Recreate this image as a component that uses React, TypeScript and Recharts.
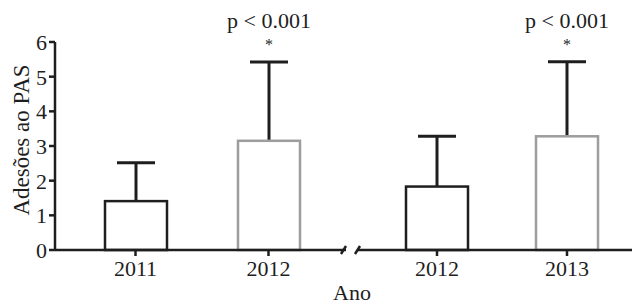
import React from "react";
import { BarChart, Bar, XAxis, YAxis } from "recharts";

// values
const yearsA = ["2011", "2012"];
const meansA = [1.41, 3.15];
const errsA = [1.11, 2.27];
const sigA = [false, true];

const yearsB = ["2012", "2013"];
const meansB = [1.83, 3.28];
const errsB = [1.45, 2.15];
const sigB = [false, true];

const yTicks = [0, 1, 2, 3, 4, 5, 6];
const pText = "p < 0.001";

const ink = "#1e1e1e";
const grey = "#9d9d9d";
const font = "'Liberation Serif', 'DejaVu Serif', serif";

const build = (years: string[], means: number[], errs: number[], sig: boolean[]) =>
  years.map((year, i) => ({ year, mean: means[i], err: errs[i], sig: sig[i] }));

const dataA = build(yearsA, meansA, errsA, sigA);
const dataB = build(yearsB, meansB, errsB, sigB);

const BarWithError = (props: any) => {
  const { x, y, width, height, payload, index } = props;
  const perUnit = payload.mean > 0 ? height / payload.mean : 0;
  const top = y - payload.err * perUnit;
  const cx = x + width / 2;
  const color = index === 0 ? ink : grey;
  return (
    <g>
      <line x1={cx} x2={cx} y1={y} y2={top} stroke={ink} strokeWidth={3} />
      <line x1={cx - 19} x2={cx + 19} y1={top} y2={top} stroke={ink} strokeWidth={3} />
      <rect x={x} y={y} width={width} height={height} fill="#fff" stroke={color} strokeWidth={2.5} />
      {payload.sig && (
        <>
          <text x={cx} y={top - 34} textAnchor="middle" fontFamily={font} fontSize={22} fill={ink}>
            {pText}
          </text>
          <text x={cx} y={top - 12} textAnchor="middle" fontFamily={font} fontSize={16} fill={ink}>
            *
          </text>
        </>
      )}
    </g>
  );
};

const XTick = (props: any) => {
  const { x, y, payload } = props;
  return (
    <text x={x} y={y + 18} textAnchor="middle" fontFamily={font} fontSize={22} fill={ink}>
      {payload.value}
    </text>
  );
};

const YTick = (props: any) => {
  const { x, y, payload } = props;
  return (
    <text x={x} y={y + 8} textAnchor="end" fontFamily={font} fontSize={22} fill={ink}>
      {payload.value}
    </text>
  );
};

const axisLine = { stroke: ink, strokeWidth: 2.5 };
const tickLine = { stroke: ink, strokeWidth: 2.5 };
const margin = { top: 42, right: 0, bottom: 26, left: 0 };

export default function App() {
  return (
    <div style={{ position: "absolute", left: 0, top: 0, width: 632, height: 306, background: "#fff" }}>
      <div style={{ position: "absolute", left: 0, top: 0 }}>
        <BarChart width={346} height={306} data={dataA} margin={margin} barSize={62}>
          <XAxis
            dataKey="year"
            padding={{ left: 14, right: 11 }}
            height={30}
            tick={<XTick />}
            tickSize={6}
            tickMargin={2}
            axisLine={axisLine}
            tickLine={tickLine}
          />
          <YAxis
            domain={[0, 6]}
            ticks={yTicks}
            width={55}
            interval={0}
            tick={<YTick />}
            tickSize={6}
            tickMargin={2}
            axisLine={axisLine}
            tickLine={tickLine}
            label={{
              value: "Adesões ao PAS",
              angle: -90,
              position: "insideLeft",
              offset: 21,
              dy: -6,
              style: { fontFamily: font, fontSize: 23, fill: ink, textAnchor: "middle" },
            }}
          />
          <Bar dataKey="mean" shape={<BarWithError />} isAnimationActive={false} />
        </BarChart>
      </div>
      <div style={{ position: "absolute", left: 357, top: 0 }}>
        <BarChart width={275} height={306} data={dataB} margin={margin} barSize={62}>
          <XAxis
            dataKey="year"
            padding={{ left: 15, right: 0 }}
            height={30}
            tick={<XTick />}
            tickSize={6}
            tickMargin={2}
            axisLine={axisLine}
            tickLine={tickLine}
          />
          <YAxis hide domain={[0, 6]} ticks={yTicks} />
          <Bar dataKey="mean" shape={<BarWithError />} isAnimationActive={false} />
        </BarChart>
      </div>
      <svg width={632} height={306} style={{ position: "absolute", left: 0, top: 0, pointerEvents: "none" }}>
        <line x1={341} y1={254} x2={346} y2={246} stroke={ink} strokeWidth={2.5} />
        <line x1={355} y1={254} x2={360} y2={246} stroke={ink} strokeWidth={2.5} />
        <text x={352} y={300} textAnchor="middle" fontFamily={font} fontSize={22} fill={ink}>
          Ano
        </text>
      </svg>
    </div>
  );
}
